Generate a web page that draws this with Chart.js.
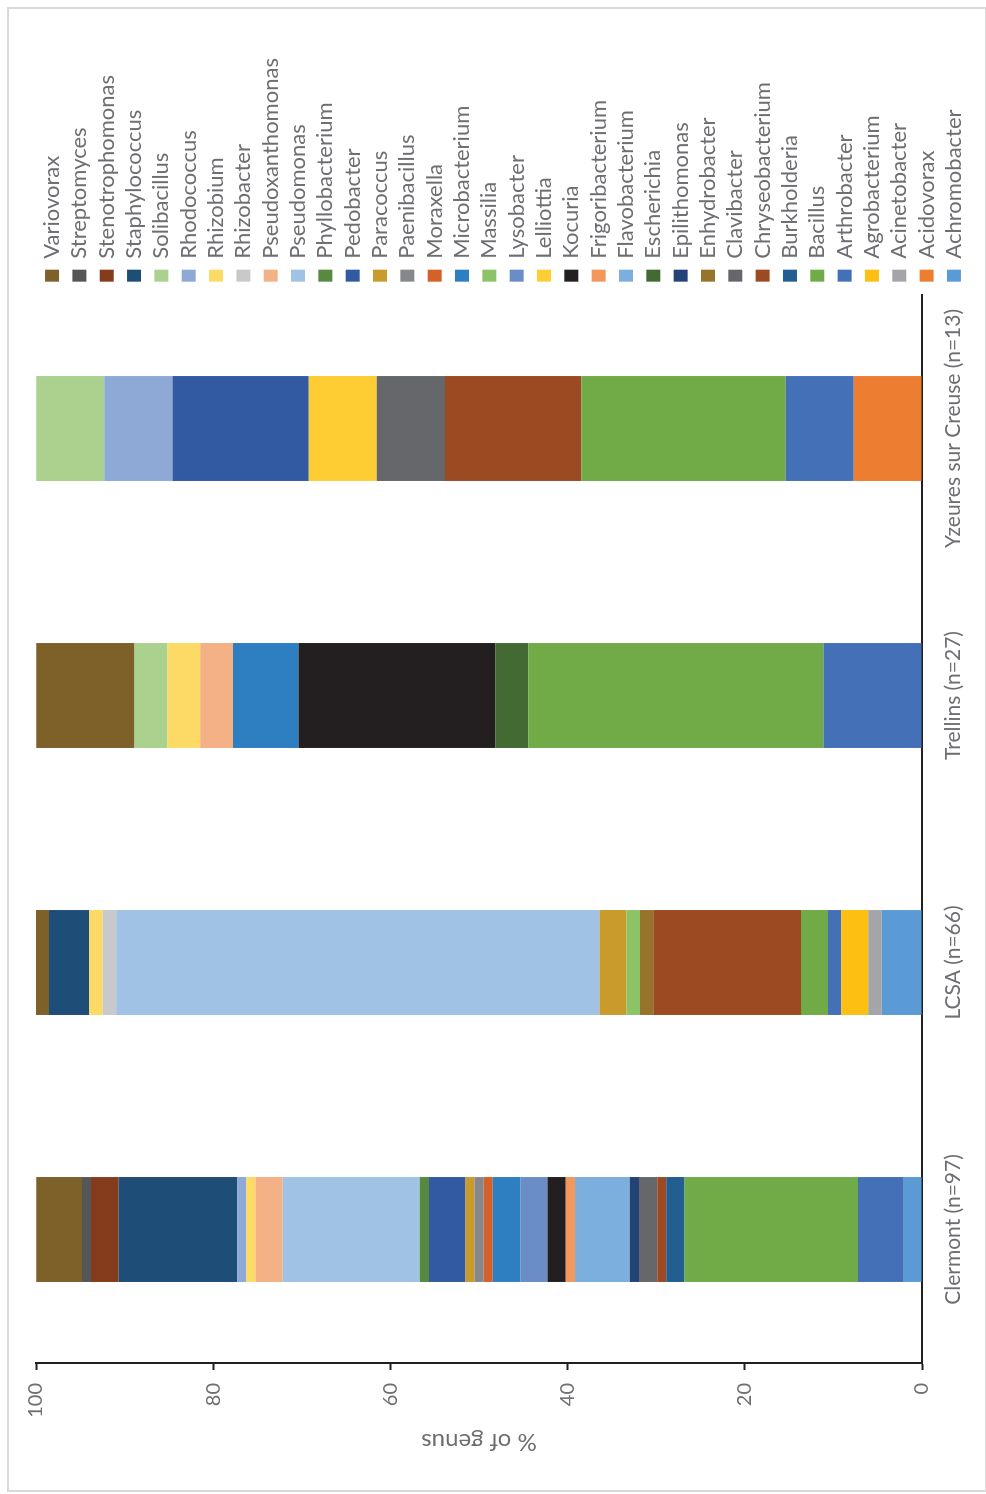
<!DOCTYPE html>
<html>
<head>
<meta charset="utf-8">
<title>% of genus per site</title>
<script src="https://cdn.jsdelivr.net/npm/chart.js@4.4.1/dist/chart.umd.min.js"></script>
<style>
  html, body { margin: 0; padding: 0; background: #fff; }
  #page { position: relative; width: 986px; height: 1494px; overflow: hidden; }
  #turn { position: absolute; left: 0; top: 0; width: 1494px; height: 986px;
          transform-origin: 0 0; transform: translateY(1494px) rotate(-90deg); }
  #frame { position: absolute; left: 7px; top: 7px; width: 976px; height: 1481px;
           border: 2px solid #d9d9d9; pointer-events: none; }
</style>
</head>
<body>
<div id="page">
  <div id="turn"><canvas id="genusChart" width="1494" height="986"></canvas></div>
  <div id="frame"></div>
</div>
<script>
// sites on the category axis
const sites = ['Clermont (n=97)', 'LCSA (n=66)', 'Trellins (n=27)', 'Yzeures sur Creuse (n=13)'];

// genera, in stacking order (bottom of the bar first)
const genera = ['Achromobacter', 'Acidovorax', 'Acinetobacter', 'Agrobacterium', 'Arthrobacter',
  'Bacillus', 'Burkholderia', 'Chryseobacterium', 'Clavibacter', 'Enhydrobacter', 'Epilithomonas',
  'Escherichia', 'Flavobacterium', 'Frigoribacterium', 'Kocuria', 'Lelliottia', 'Lysobacter',
  'Massilia', 'Microbacterium', 'Moraxella', 'Paenibacillus', 'Paracoccus', 'Pedobacter',
  'Phyllobacterium', 'Pseudomonas', 'Pseudoxanthomonas', 'Rhizobacter', 'Rhizobium',
  'Rhodococcus', 'Solibacillus', 'Staphylococcus', 'Stenotrophomonas', 'Streptomyces', 'Variovorax'];

// % of genus per site, same order as genera
const clermont = [2.06, 0, 0, 0, 5.15, 19.59, 2.06, 1.03, 2.06, 0, 1.03, 0, 6.19, 1.03, 2.06, 0, 3.09,
  0, 3.09, 1.03, 1.03, 1.03, 4.12, 1.03, 15.46, 3.09, 0, 1.03, 1.03, 0, 13.40, 3.09, 1.03, 5.15];
const lcsa = [4.55, 0, 1.52, 3.03, 1.52, 3.03, 0, 16.67, 0, 1.52, 0, 0, 0, 0, 0, 0, 0,
  1.52, 0, 0, 0, 3.03, 0, 0, 54.55, 0, 1.52, 1.52, 0, 0, 4.55, 0, 0, 1.52];
const trellins = [0, 0, 0, 0, 11.11, 33.33, 0, 0, 0, 0, 0, 3.70, 0, 0, 22.22, 0, 0,
  0, 7.41, 0, 0, 0, 0, 0, 0, 3.70, 0, 3.70, 0, 3.70, 0, 0, 0, 11.11];
const yzeures = [0, 7.69, 0, 0, 7.69, 23.08, 0, 15.38, 7.69, 0, 0, 0, 0, 0, 0, 7.69, 0,
  0, 0, 0, 0, 0, 15.38, 0, 0, 0, 0, 0, 7.69, 7.69, 0, 0, 0, 0];

const yTicks = [0, 20, 40, 60, 80, 100];

const colors = ['#5b9bd5', '#ed7d31', '#a4a5a8', '#fcbf12', '#4470b8', '#70ab48', '#225e91',
  '#9c4a22', '#66676b', '#96742c', '#234377', '#446a33', '#7cafdd', '#f3975b', '#231f20',
  '#fdcd33', '#6a8dc8', '#8bc366', '#2e7ec2', '#d5612a', '#86878b', '#c99a2c', '#325aa2',
  '#578a3e', '#9fc2e5', '#f3b185', '#c8c9cb', '#fdd966', '#8ea9d6', '#aad18e', '#1e4d78',
  '#853c1c', '#555657', '#7e6128'];

const textGray = '#6d6e71';
const axisBlack = '#231f20';

const datasets = genera.map((g, i) => ({
  label: g,
  data: [clermont[i], lcsa[i], trellins[i], yzeures[i]],
  backgroundColor: colors[i],
  borderWidth: 0,
  barPercentage: 0.393,
  categoryPercentage: 1
}));

// legend: fixed width, nudged right/up so it sits like the original
const legendPlace = {
  id: 'legendPlace',
  beforeInit(chart) {
    const fit = chart.legend.fit;
    chart.legend.fit = function () {
      fit.bind(chart.legend)();
      this.width = 295;
    };
  },
  afterLayout(chart) {
    chart.legend.left += 8;
    chart.legend.right += 8;
    chart.legend.top -= 8;
  }
};

new Chart(document.getElementById('genusChart').getContext('2d'), {
  type: 'bar',
  data: { labels: sites, datasets: datasets },
  plugins: [legendPlace],
  options: {
    responsive: false,
    animation: false,
    layout: { padding: { top: 36, bottom: 8, left: 0, right: 0 } },
    plugins: {
      legend: {
        position: 'right',
        reverse: true,
        labels: {
          boxWidth: 12,
          boxHeight: 14,
          padding: 5.33,
          color: textGray,
          font: { family: 'Lato', size: 22 }
        }
      },
      tooltip: { enabled: false }
    },
    scales: {
      x: {
        stacked: true,
        grid: { display: false, drawTicks: false },
        border: { display: true, color: axisBlack, width: 2 },
        ticks: { color: textGray, font: { family: 'Lato', size: 21 }, padding: 19, maxRotation: 0 },
        afterFit: s => { s.height = 56; }
      },
      y: {
        stacked: true,
        min: 0,
        max: 100,
        grid: { drawOnChartArea: false, drawTicks: true, tickLength: 7, tickWidth: 2, tickColor: axisBlack },
        border: { display: true, color: axisBlack, width: 2 },
        ticks: { color: textGray, font: { family: 'Lato', size: 20 }, padding: 13 },
        afterBuildTicks: s => { s.ticks = yTicks.map(v => ({ value: v })); },
        title: {
          display: true,
          text: '% of genus',
          color: textGray,
          font: { family: 'Lato', size: 24 },
          padding: { top: 38, bottom: 0 }
        },
        afterFit: s => { s.width = 131; }
      }
    }
  }
});
</script>
</body>
</html>
